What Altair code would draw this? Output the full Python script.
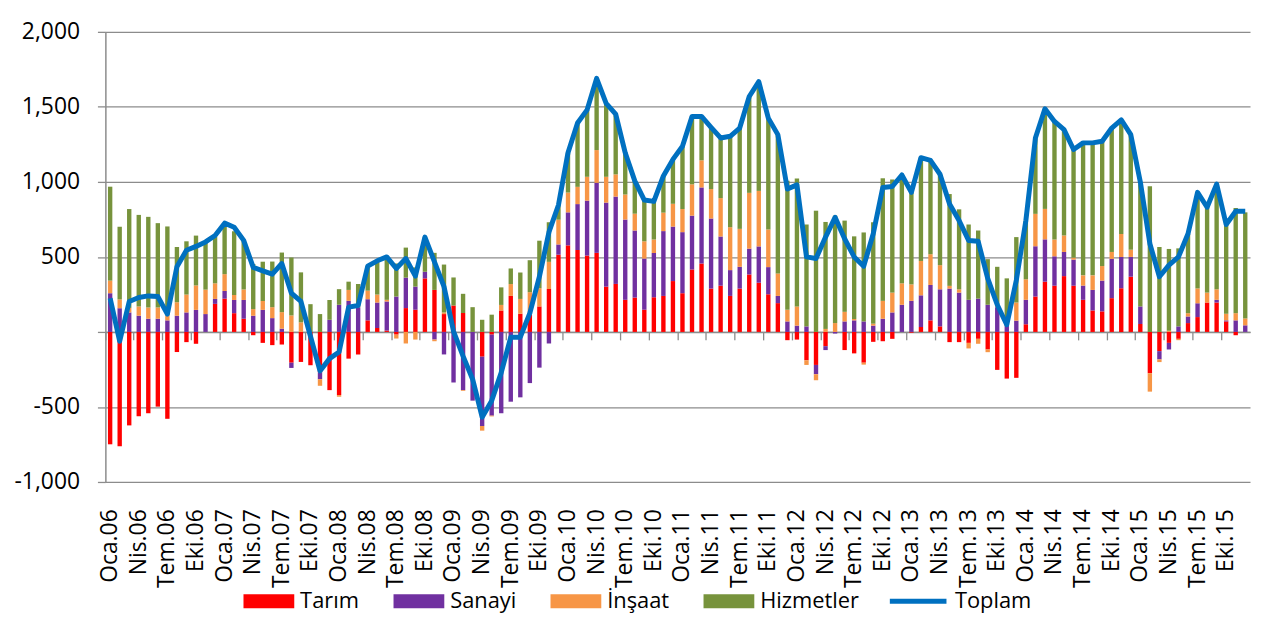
import altair as alt
import pandas as pd

years = ["06", "07", "08", "09", "10", "11", "12", "13", "14", "15"]
aylar = ["Oca", "Şub", "Mar", "Nis", "May", "Haz", "Tem", "Ağu", "Eyl", "Eki", "Kas", "Ara"]
months = [f"{a}.{y}" for y in years for a in aylar]

tarim = [-749, -762, -623, -562, -542, -498, -579, -134, -68, -79,
         0, 187, 222, 125, 88, -22, -73, -88, -84, -205,
         -200, -222, -271, -388, -421, -178, -150, 77, 26, 9,
         -18, 159, 148, 357, 280, 119, 176, 126, 0, -165,
         -18, 143, 240, 121, 115, 170, 286, 515, 577, 546,
         509, 527, 302, 320, 214, 229, 148, 231, 240, 339,
         258, 416, 456, 289, 308, 240, 289, 383, 328, 251,
         192, -55, -51, -189, -220, -95, 0, -121, -143, -205,
         -66, -62, -46, 0, -5, 33, 77, 37, -68, -68,
         -73, -46, -117, -253, -311, -306, 51, 236, 335, 308,
         372, 308, 214, 143, 137, 225, 291, 368, 53, -275,
         -128, -73, -46, 59, 99, 196, 196, 70, -22, 0]
sanayi = [258, 158, 130, 108, 88, 88, 77, 108, 130, 147,
          119, 33, 51, 88, 125, 108, 147, 92, 22, -35,
          0, 0, -44, 81, 181, 207, 165, 141, 170, 194,
          236, 203, 154, 44, -51, -150, -337, -388, -458, -462,
          -540, -542, -465, -436, -341, -238, -77, 68, 220, 306,
          366, 467, 560, 582, 535, 447, 341, 295, 432, 363,
          407, 359, 507, 467, 328, 172, 145, 172, 242, 181,
          48, 70, 42, 37, -62, -26, -11, 70, 77, 70,
          42, 88, 130, 181, 207, 211, 236, 247, 289, 262,
          214, 222, 181, 165, 60, 75, 163, 335, 282, 196,
          161, 174, 95, 137, 205, 262, 209, 132, 117, 0,
          -55, -44, 37, 44, 92, 0, 18, 7, 77, 44]
insaat = [84, 59, 30, 62, 75, 75, 33, 90, 119, 163,
          163, 104, 112, 33, 70, 44, 59, 73, 110, 110,
          64, 0, -44, 0, -11, 73, 0, 57, 53, 11,
          -26, -77, -51, 0, -11, 11, 0, -5, 0, -31,
          -5, 37, 79, 99, 150, 121, 181, 165, 132, 115,
          159, 218, 172, 148, 167, 112, 115, 90, 123, 152,
          154, 209, 181, 196, 256, 286, 253, 372, 370, 251,
          150, 77, 128, -31, -40, 20, 59, 64, 9, -13,
          13, 119, 132, 143, 110, 229, 205, 161, 18, 22,
          -37, -33, -18, 15, 0, 121, 137, 216, 203, 112,
          110, 13, 68, 97, 97, 46, 152, 48, 0, -123,
          -18, 8, -9, 22, 99, 66, 70, 44, 48, 46]
hizmetler = [626, 484, 659, 610, 604, 562, 593, 368, 355, 332,
             318, 310, 330, 425, 330, 300, 262, 304, 397, 386,
             333, 185, 119, 132, 104, 55, 154, 163, 225, 282,
             220, 200, 128, 231, 247, 319, 187, 128, 165, 81,
             115, 117, 104, 176, 213, 317, 264, 98, 265, 425,
             446, 478, 490, 402, 278, 219, 275, 254, 245, 296,
             419, 452, 292, 412, 401, 606, 672, 642, 728, 742,
             925, 860, 852, 679, 808, 713, 716, 608, 551, 593,
             676, 817, 754, 722, 613, 688, 625, 606, 612, 533,
             502, 454, 304, 254, 297, 436, 391, 506, 667, 787,
             705, 721, 883, 883, 832, 826, 762, 767, 815, 971,
             566, 545, 520, 529, 640, 569, 701, 599, 701, 707]
toplam = [224, -62, 203, 229, 240, 236, 119, 434, 544, 570,
          600, 643, 725, 698, 610, 430, 407, 385, 456, 258,
          203, -29, -260, -178, -134, 165, 176, 438, 474, 500,
          423, 489, 372, 632, 467, 302, 4, -161, -315, -568,
          -458, -271, -35, -35, 125, 368, 665, 846, 1194, 1392,
          1480, 1690, 1524, 1452, 1194, 1007, 879, 870, 1040, 1150,
          1238, 1436, 1436, 1364, 1293, 1304, 1359, 1569, 1668, 1425,
          1315, 952, 980, 500, 489, 632, 764, 621, 500, 438,
          654, 962, 969, 1046, 930, 1161, 1143, 1051, 853, 742,
          610, 604, 357, 181, 48, 345, 742, 1293, 1487, 1403,
          1348, 1216, 1260, 1260, 1271, 1359, 1414, 1315, 1000, 588,
          368, 445, 500, 654, 930, 831, 985, 716, 804, 804]

series_names = ["Tarım", "Sanayi", "İnşaat", "Hizmetler"]
series_colors = ["#FF0000", "#7030A0", "#F79646", "#77933C"]
series_values = [tarim, sanayi, insaat, hizmetler]

rows = []
for k, (name, vals) in enumerate(zip(series_names, series_values)):
    for m, v in zip(months, vals):
        rows.append({"ay": m, "seri": name, "deger": v, "sira": k})
bars_df = pd.DataFrame(rows)
line_df = pd.DataFrame({"ay": months, "toplam": toplam, "seri": "Toplam"})

FONT = "Open Sans"
GRAY = "#8c8c8c"
label_vals = months[::3]

xscale = alt.Scale(domain=months, paddingInner=0, paddingOuter=0)
yscale = alt.Scale(domain=[-1000, 2000], nice=False, zero=False)

y_axis = alt.Axis(values=[-1000, -500, 0, 500, 1000, 1500, 2000],
                  labelExpr="datum.value == 0 ? '' : replace(format(datum.value, ','), '\u2212', '-')",
                  title=None, grid=True, gridColor=GRAY, gridWidth=1.3,
                  domain=True, domainColor=GRAY, domainWidth=1.5,
                  ticks=True, tickColor=GRAY, tickSize=8, tickWidth=1.3,
                  labelPadding=18, labelFontSize=23, labelFont=FONT,
                  labelColor="#000000")

bars = alt.Chart(bars_df).mark_bar(size=4.4).encode(
    x=alt.X("ay:N", sort=months, scale=xscale,
            axis=alt.Axis(orient="bottom", values=label_vals, labelAngle=-90,
                          labelAlign="right", labelBaseline="middle",
                          labelPadding=27, ticks=False, tickSize=0, domain=False,
                          grid=False, title=None, labelFontSize=23,
                          labelFont=FONT, labelColor="#000000")),
    y=alt.Y("deger:Q", stack="zero", scale=yscale, axis=y_axis),
    color=alt.Color("seri:N",
                    scale=alt.Scale(domain=series_names, range=series_colors),
                    legend=alt.Legend(orient="none", direction="horizontal",
                                      legendX=135, legendY=562, title=None,
                                      symbolType="M-1,-1H6.3V1H-1Z", symbolSize=196,
                                      symbolStrokeWidth=0, labelOffset=39,
                                      columnPadding=30, labelFontSize=22,
                                      labelFont=FONT, labelColor="#000000",
                                      labelLimit=300)),
    order=alt.Order("sira:Q", sort="ascending"),
)

line = alt.Chart(line_df).mark_line(strokeWidth=5, strokeJoin="round").encode(
    x=alt.X("ay:N", sort=months, scale=xscale,
            axis=alt.Axis(orient="bottom", offset=-151, values=label_vals,
                          bandPosition=0, labels=False, ticks=True, tickSize=8,
                          tickColor=GRAY, tickWidth=1.3, domain=True,
                          domainColor=GRAY, domainWidth=1.5, grid=False,
                          title=None)),
    y=alt.Y("toplam:Q", scale=yscale, axis=y_axis),
    stroke=alt.Stroke("seri:N", scale=alt.Scale(domain=["Toplam"], range=["#0070C0"]),
                      legend=alt.Legend(orient="none", legendX=787, legendY=542,
                                        title=None, symbolType="stroke",
                                        symbolSize=3249, symbolStrokeWidth=5,
                                        labelOffset=6, labelFontSize=22,
                                        labelFont=FONT, labelColor="#000000")),
)

chart = alt.layer(bars, line).resolve_axis(x="independent").resolve_legend(
    color="independent", stroke="independent"
).properties(
    width=1152, height=453,
    autosize=alt.AutoSizeParams(type="none"),
    padding={"left": 98, "top": 22, "right": 3, "bottom": 150},
).configure(font=FONT, view=alt.ViewConfig(stroke=None))

chart.save("out.html", embed_options={"renderer": "svg", "actions": False})
